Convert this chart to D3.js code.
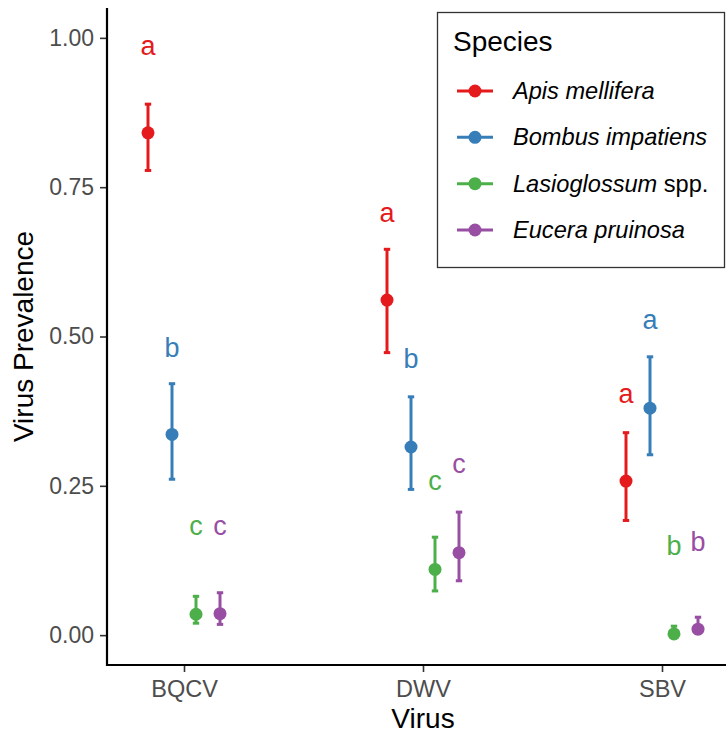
<!DOCTYPE html>
<html>
<head>
<meta charset="utf-8">
<script src="https://cdn.jsdelivr.net/npm/d3@7/dist/d3.min.js"></script>
<style>
  html, body { margin: 0; padding: 0; background: #fff; }
  svg { display: block; font-family: "Liberation Sans", Arial, Helvetica, sans-serif; }
</style>
</head>
<body>
<svg id="chart" width="726" height="736"></svg>
<script>
// ---- data ----
const viruses = ["BQCV", "DWV", "SBV"];
const species = ["Apis mellifera", "Bombus impatiens", "Lasioglossum spp.", "Eucera pruinosa"];
const colors = ["#E41A1C", "#377EB8", "#4DAF4A", "#984EA3"];
const yTicks = [0, 0.25, 0.5, 0.75, 1.0];
const yTickLabels = ["0.00", "0.25", "0.50", "0.75", "1.00"];

// prevalence estimates, rows = species, cols = virus
const prevalence = [
  [0.841, 0.561, 0.258],
  [0.336, 0.315, 0.380],
  [0.035, 0.110, 0.002],
  [0.036, 0.138, 0.010]
];
const lowerCI = [
  [0.778, 0.473, 0.192],
  [0.261, 0.244, 0.302],
  [0.020, 0.074, 0.000],
  [0.018, 0.091, 0.003]
];
const upperCI = [
  [0.889, 0.646, 0.339],
  [0.421, 0.399, 0.466],
  [0.065, 0.164, 0.015],
  [0.071, 0.206, 0.030]
];
const letters = [
  ["a", "a", "a"],
  ["b", "b", "a"],
  ["c", "c", "b"],
  ["c", "c", "b"]
];
const letterY = [
  [0.971, 0.691, 0.389],
  [0.465, 0.447, 0.512],
  [0.167, 0.243, 0.134],
  [0.167, 0.272, 0.141]
];

// ---- layout ----
const svg = d3.select("#chart");
const axisX = 107, axisTop = 8, axisBottom = 665, rightEdge = 726;

const y = d3.scaleLinear().domain([-0.05, 1.05]).range([axisBottom, axisTop]);
const x = d3.scalePoint().domain(viruses).range([184, 662]);
const dodge = d3.scalePoint().domain(species).range([-36, 36]);

const rows = [];
species.forEach((s, i) => viruses.forEach((v, j) => rows.push({
  s, v, i, val: prevalence[i][j], lo: lowerCI[i][j], hi: upperCI[i][j],
  letter: letters[i][j], ly: letterY[i][j]
})));

// axes
const yAxis = d3.axisLeft(y).tickValues(yTicks).tickFormat((d, k) => yTickLabels[k]).tickSize(7).tickPadding(6);
const gy = svg.append("g").attr("transform", `translate(${axisX},0)`).call(yAxis);
gy.select(".domain").remove();
gy.selectAll(".tick line").attr("stroke", "#333").attr("stroke-width", 1.6);
gy.selectAll(".tick text").attr("fill", "#4d4d4d").style("font-size", "23px").attr("font-family", null);

const xAxis = d3.axisBottom(x).tickSize(7).tickPadding(8);
const gx = svg.append("g").attr("transform", `translate(0,${axisBottom})`).call(xAxis);
gx.select(".domain").remove();
gx.selectAll(".tick line").attr("stroke", "#333").attr("stroke-width", 1.6);
gx.selectAll(".tick text").attr("fill", "#4d4d4d").style("font-size", "23.5px").attr("font-family", null);

svg.append("line").attr("x1", axisX).attr("x2", axisX).attr("y1", axisTop).attr("y2", axisBottom + 1)
  .attr("stroke", "#000").attr("stroke-width", 2.2);
svg.append("line").attr("x1", axisX - 1).attr("x2", rightEdge).attr("y1", axisBottom).attr("y2", axisBottom)
  .attr("stroke", "#000").attr("stroke-width", 2.2);

// axis titles
svg.append("text").attr("transform", `translate(33,${(axisTop + axisBottom) / 2}) rotate(-90)`)
  .attr("text-anchor", "middle").style("font-size", "28px").attr("fill", "#000").text("Virus Prevalence");
svg.append("text").attr("x", (x("DWV"))).attr("y", 728)
  .attr("text-anchor", "middle").style("font-size", "28px").attr("fill", "#000").text("Virus");

// marks
const px = d => x(d.v) + dodge(d.s);
const g = svg.append("g");
g.selectAll("line.err").data(rows).join("line").attr("class", "err")
  .attr("x1", px).attr("x2", px).attr("y1", d => y(d.lo)).attr("y2", d => y(d.hi))
  .attr("stroke", d => colors[d.i]).attr("stroke-width", 3);
g.selectAll("line.capHi").data(rows).join("line").attr("class", "capHi")
  .attr("x1", d => px(d) - 3.2).attr("x2", d => px(d) + 3.2).attr("y1", d => y(d.hi)).attr("y2", d => y(d.hi))
  .attr("stroke", d => colors[d.i]).attr("stroke-width", 3);
g.selectAll("line.capLo").data(rows).join("line").attr("class", "capLo")
  .attr("x1", d => px(d) - 3.2).attr("x2", d => px(d) + 3.2).attr("y1", d => y(d.lo)).attr("y2", d => y(d.lo))
  .attr("stroke", d => colors[d.i]).attr("stroke-width", 3);
g.selectAll("circle.pt").data(rows).join("circle").attr("class", "pt")
  .attr("cx", px).attr("cy", d => y(d.val)).attr("r", 6.5).attr("fill", d => colors[d.i]);
g.selectAll("text.let").data(rows).join("text").attr("class", "let")
  .attr("x", px).attr("y", d => y(d.ly)).attr("text-anchor", "middle")
  .style("font-size", "27px").attr("fill", d => colors[d.i]).text(d => d.letter);

// legend
const lg = svg.append("g");
lg.append("rect").attr("x", 437.5).attr("y", 12.5).attr("width", 287).attr("height", 255)
  .attr("fill", "#fff").attr("stroke", "#333").attr("stroke-width", 1.3);
lg.append("text").attr("x", 453).attr("y", 51).style("font-size", "28px").attr("fill", "#000").text("Species");
const legY = d3.scalePoint().domain(species).range([91, 230]);
species.forEach((s, i) => {
  const yy = legY(s);
  lg.append("line").attr("x1", 457).attr("x2", 493).attr("y1", yy).attr("y2", yy)
    .attr("stroke", colors[i]).attr("stroke-width", 3);
  lg.append("circle").attr("cx", 475).attr("cy", yy).attr("r", 6.5).attr("fill", colors[i]);
  const t = lg.append("text").attr("x", 513).attr("y", yy + 8).style("font-size", "23.6px").attr("fill", "#000");
  const parts = s.split(" ");
  if (parts[1] === "spp.") {
    t.append("tspan").style("font-style", "italic").text(parts[0]);
    t.append("tspan").text(" spp.");
  } else {
    t.append("tspan").style("font-style", "italic").text(s);
  }
});
</script>
</body>
</html>
